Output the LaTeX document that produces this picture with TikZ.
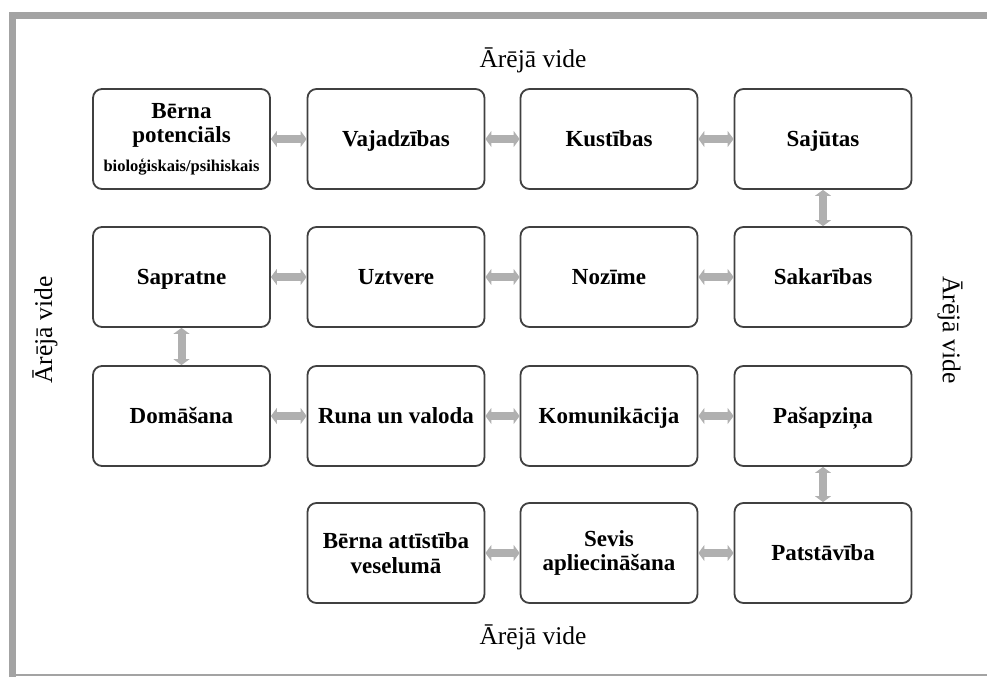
\documentclass[tikz,border=0pt]{standalone}
\usepackage{fontspec}
\setmainfont{Liberation Serif}
\usetikzlibrary{arrows.meta}
\definecolor{framegray}{HTML}{A3A3A3}
\definecolor{linkgray}{HTML}{B0B0B0}
\tikzset{box/.style = {draw = black!75, line width = 1.8pt, rounded corners = 9pt, minimum width = 177pt, minimum height = 100pt, align = center, font = \fontsize{23}{24.5}\selectfont\bfseries}}
\tikzset{one/.style = {box, text height = 15pt, text depth = 0pt}}
\tikzset{link/.style = {draw = linkgray, line width = 8pt, {Triangle[length = 6pt, width = 16pt]}-{Triangle[length = 6pt, width = 16pt]}}}
\tikzset{vide/.style = {font = \fontsize{25.5}{28}\selectfont}}

\begin{document}
\begin{tikzpicture}[x = 1pt, y = -1pt]
	\useasboundingbox (0,0) rectangle (987,677);
	\draw [framegray, line width = 7pt] (12.5,677) -- (12.5,16) -- (987,16);
	\draw [framegray, line width = 1.5pt] (9,675) -- (987,675);
	% row 1
	\node [box] (berns) at (181.5,139) {Bērna\\potenciāls\\[4pt]{\fontsize{16.5}{18}\selectfont bioloģiskais/psihiskais}};
	\node [one] (vajad) at (396,139) {Vajadzības};
	\node [one] (kust) at (609,139) {Kustības};
	\node [one] (saj) at (823,139) {Sajūtas};
	% row 2
	\node [one] (sapr) at (181.5,277) {Sapratne};
	\node [one] (uztv) at (396,277) {Uztvere};
	\node [one] (noz) at (609,277) {Nozīme};
	\node [one] (sakar) at (823,277) {Sakarības};
	% row 3
	\node [one] (domas) at (181.5,416) {Domāšana};
	\node [one] (runa) at (396,416) {Runa un valoda};
	\node [one] (komun) at (609,416) {Komunikācija};
	\node [one] (pasap) at (823,416) {Pašapziņa};
	% row 4
	\node [box] (veselum) at (396,553) {Bērna attīstība\\veselumā};
	\node [box] (sevis) at (609,553) {Sevis\\apliecināšana};
	\node [one] (patst) at (823,553) {Patstāvība};

	\draw [link] (berns) -- (vajad);
	\draw [link] (vajad) -- (kust);
	\draw [link] (kust) -- (saj);
	\draw [link] (saj) -- (sakar);
	\draw [link] (sakar) -- (noz);
	\draw [link] (noz) -- (uztv);
	\draw [link] (uztv) -- (sapr);
	\draw [link] (sapr) -- (domas);
	\draw [link] (domas) -- (runa);
	\draw [link] (runa) -- (komun);
	\draw [link] (komun) -- (pasap);
	\draw [link] (pasap) -- (patst);
	\draw [link] (patst) -- (sevis);
	\draw [link] (sevis) -- (veselum);

	\node [vide] (videt) at (533,60) {Ārējā vide};
	\node [vide] (videb) at (533,637) {Ārējā vide};
	\node [vide, rotate = 90] (videl) at (45,330) {Ārējā vide};
	\node [vide, rotate = -90] (vider) at (950,330) {Ārējā vide};
\end{tikzpicture}
\end{document}
